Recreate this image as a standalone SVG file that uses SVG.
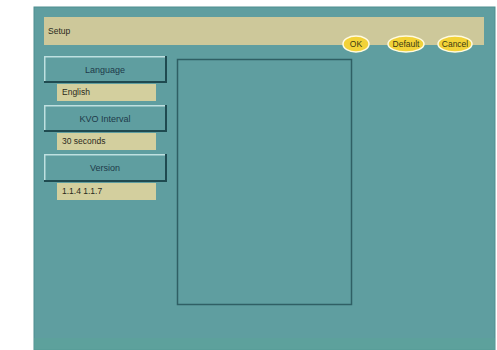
<svg xmlns="http://www.w3.org/2000/svg" width="497" height="350" viewBox="0 0 497 350">
<defs>
<style>
.t{font-family:"Liberation Sans",Arial,sans-serif;font-size:9px;fill:#1e3a4a}
.v{font-family:"Liberation Sans",Arial,sans-serif;font-size:8.5px;fill:#2a2a20}
.b{font-family:"Liberation Sans",Arial,sans-serif;font-size:8.5px;fill:#3a3a10;text-anchor:middle}
.field{fill:#d3cf9e}
.btnface{fill:#5f9ea0}
.hl{fill:#bfe0e0}
.sh{fill:#1f4a50}
.ell{fill:#f2d238;stroke:#fffbe0;stroke-width:1.5}
</style>
</defs>
<rect width="497" height="350" fill="#ffffff"/>
<rect x="34" y="7" width="461" height="343" fill="#5f9ea0"/>
<rect x="34" y="7" width="461" height="343" fill="none" stroke="#4f8e90" stroke-width="1"/>
<rect x="34" y="338" width="461" height="12" fill="#5ba39a" opacity="0.6"/>
<g id="title">
<rect x="44" y="17" width="440" height="28" fill="#cdc89a"/>
<text class="v" x="48" y="34">Setup</text>
</g>
<g id="ok">
<ellipse class="ell" cx="356" cy="44" rx="13" ry="8"/>
<text class="b" x="356" y="47">OK</text>
</g>
<g id="default">
<ellipse class="ell" cx="406" cy="44" rx="18" ry="8"/>
<text class="b" x="406" y="47">Default</text>
</g>
<g id="cancel">
<ellipse class="ell" cx="455" cy="44" rx="17" ry="8"/>
<text class="b" x="455" y="47">Cancel</text>
</g>
<g id="language">
<rect class="sh" x="44" y="56" width="123" height="27"/>
<rect class="hl" x="44" y="56" width="121" height="25"/>
<rect class="btnface" x="45.5" y="57.5" width="119.5" height="23.5"/>
<text class="t" x="105" y="73" text-anchor="middle">Language</text>
</g>
<g id="english">
<rect class="field" x="57" y="84" width="99" height="17"/>
<text class="v" x="62" y="95">English</text>
</g>
<g id="kvo">
<rect class="sh" x="44" y="105" width="123" height="27"/>
<rect class="hl" x="44" y="105" width="121" height="25"/>
<rect class="btnface" x="45.5" y="106.5" width="119.5" height="23.5"/>
<text class="t" x="105" y="122" text-anchor="middle">KVO Interval</text>
</g>
<g id="seconds">
<rect class="field" x="57" y="133" width="99" height="17"/>
<text class="v" x="62" y="144">30 seconds</text>
</g>
<g id="version">
<rect class="sh" x="44" y="154" width="123" height="28"/>
<rect class="hl" x="44" y="154" width="121" height="26"/>
<rect class="btnface" x="45.5" y="155.5" width="119.5" height="24.5"/>
<text class="t" x="105" y="171" text-anchor="middle">Version</text>
</g>
<g id="versionval">
<rect class="field" x="57" y="183" width="99" height="17"/>
<text class="v" x="62" y="194">1.1.4 1.1.7</text>
</g>
<g id="panel">
<rect x="177.5" y="59.5" width="174" height="245" fill="#5f9ea0" stroke="#2f5f64" stroke-width="1.5"/>
</g>
<g id="connectors"></g>
</svg>
